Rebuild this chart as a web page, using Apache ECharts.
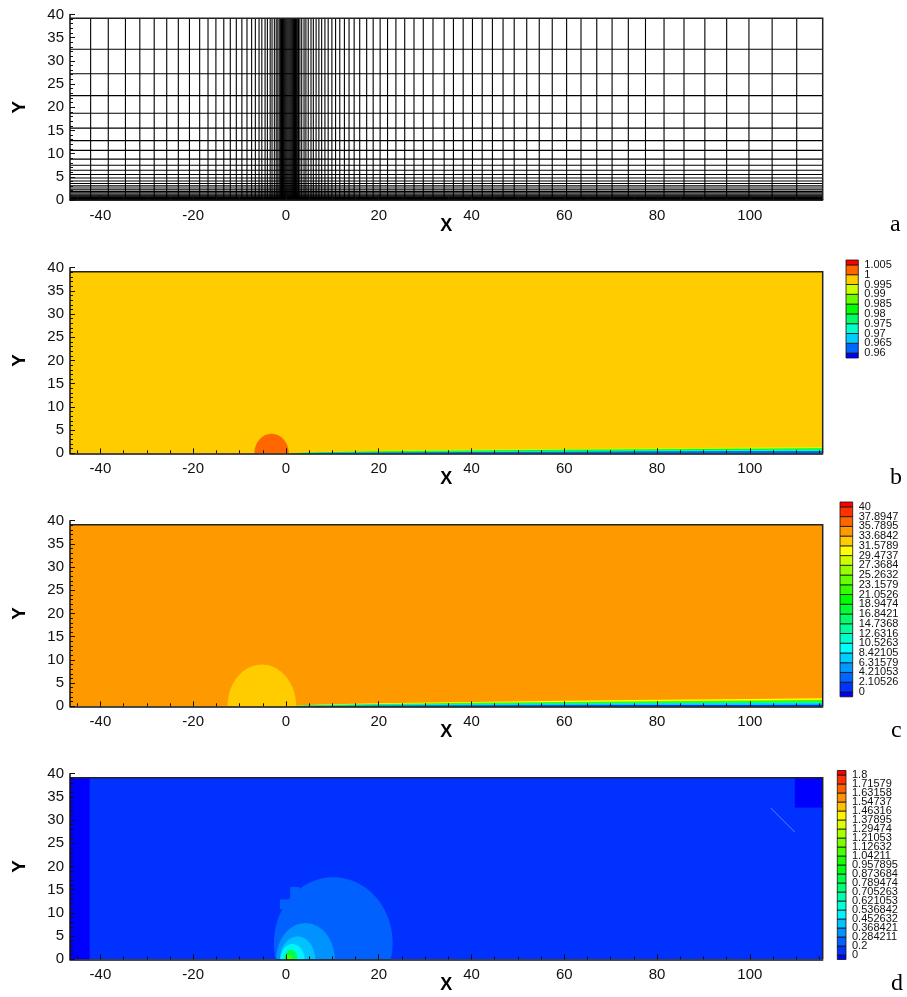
<!DOCTYPE html>
<html>
<head>
<meta charset="utf-8">
<title>Mesh and flow fields</title>
<script src="https://cdn.jsdelivr.net/npm/echarts/dist/echarts.min.js"></script>
<style>
  html, body { margin: 0; padding: 0; background: #fff; }
  #chart { width: 907px; height: 997px; }
</style>
</head>
<body>
<div id="chart"></div>
<script>
// ---- computational box ----
const X_MIN = -46.55, X_MAX = 115.7, Y_MAX = 39.15;
const X_LABELS = [-40, -20, 0, 20, 40, 60, 80, 100];
const X_TICKS = [-45, -40, -35, -30, -25, -20, -15, -10, -5, 0, 5, 10, 15, 20, 25, 30, 35, 40, 45, 50,
  55, 60, 65, 70, 75, 80, 85, 90, 95, 100, 105, 110, 115];

// ---- panel a: mesh line positions ----
const meshX = [-42.1, -38.3, -34.6, -31.5, -28.4, -25.7, -23.2, -20.8, -18.6, -16.8, -15.1, -13.4,
  -12.0, -10.7, -9.5, -8.4, -7.4, -6.6, -5.8, -5.2, -4.5, -4.0, -3.4, -3.0, -2.5, -2.1, -1.75,
  -1.45, -1.2, -0.95, -0.75, -0.55, -0.35, -0.15, 0.05, 0.25, 0.45, 0.65, 0.85, 1.05, 1.25, 1.45,
  1.65, 1.85, 2.05, 2.25, 2.45, 2.7, 3.0, 3.4, 3.9, 4.3, 4.8, 5.4, 5.9, 6.5, 7.1, 7.7, 8.4, 9.1,
  9.9, 10.7, 11.6, 12.6, 13.6, 14.7, 15.9, 17.4, 18.8, 20.3, 21.9, 23.7, 25.6, 27.6, 29.6, 31.7,
  34.1, 36.1, 38.2, 40.2, 42.3, 44.5, 46.8, 49.2, 51.9, 54.6, 57.4, 60.5, 63.6, 67.0, 70.3, 73.8,
  77.5, 81.5, 85.8, 90.3, 95.0, 99.8, 104.8, 110.1];
const meshY = [0.03, 0.07, 0.13, 0.2, 0.29, 0.4, 0.53, 0.68, 0.85, 1.05, 1.28, 1.55, 1.85, 2.2,
  2.6, 3.05, 3.55, 4.1, 4.75, 5.5, 6.4, 7.5, 8.8, 10.7, 12.8, 15.5, 18.7, 22.5, 27.2, 32.5];

// ---- panel b: density ----
const rhoLevels = ['0.96', '0.965', '0.97', '0.975', '0.98', '0.985', '0.99', '0.995', '1', '1.005'];
const rhoFree = 0.997;
const rhoBlocks = [];
const rhoDomes = [[-3.1, 0, 3.7, 4.2, 1.002]];               // cx, cy, rx, ry, value
const wallX = [0, 5, 10, 20, 40, 60, 80, 100, 115.7];
const rhoWall = [                                               // value, band top at wallX
  [0.992, [0, 0.25, 0.4, 0.55, 0.8, 0.95, 1.1, 1.25, 1.35]],
  [0.982, [0, 0.15, 0.3, 0.42, 0.62, 0.75, 0.88, 1.0, 1.08]],
  [0.972, [0, 0.1, 0.2, 0.3, 0.45, 0.55, 0.65, 0.75, 0.8]],
  [0.962, [0, 0.05, 0.12, 0.18, 0.28, 0.35, 0.42, 0.48, 0.52]]
];

// ---- panel c: velocity ----
const velLevels = ['0', '2.10526', '4.21053', '6.31579', '8.42105', '10.5263', '12.6316', '14.7368',
  '16.8421', '18.9474', '21.0526', '23.1579', '25.2632', '27.3684', '29.4737', '31.5789', '33.6842',
  '35.7895', '37.8947', '40'];
const velFree = 34.7;
const velBlocks = [];
const velDomes = [[-5.2, 0, 7.4, 9.0, 32.6]];
const velWall = [
  [30, [0, 0.3, 0.45, 0.65, 0.95, 1.2, 1.4, 1.6, 1.75]],
  [22, [0, 0.22, 0.35, 0.5, 0.75, 0.95, 1.1, 1.25, 1.35]],
  [14, [0, 0.15, 0.25, 0.37, 0.55, 0.7, 0.82, 0.93, 1.0]],
  [7, [0, 0.1, 0.16, 0.24, 0.36, 0.46, 0.54, 0.62, 0.67]],
  [2, [0, 0.05, 0.08, 0.12, 0.18, 0.23, 0.27, 0.3, 0.33]]
];

// ---- panel d: magnitude ----
const magLevels = ['0', '0.2', '0.284211', '0.368421', '0.452632', '0.536842', '0.621053', '0.705263',
  '0.789474', '0.873684', '0.957895', '1.04211', '1.12632', '1.21053', '1.29474', '1.37895', '1.46316',
  '1.54737', '1.63158', '1.71579', '1.8'];
const magFree = 0.1;
const magBlocks = [                                             // x0, x1, y0, y1, value
  [X_MIN, -42.3, 0, Y_MAX, -0.01],
  [109.7, X_MAX, 32.7, Y_MAX, -0.01],
  [0.9, 2.9, 12.9, 15.6, 0.25],
  [-1.3, 0.9, 10.8, 12.9, 0.25]
];
const magWall = [];
const magDomes = [
  [10.2, 3.5, 12.8, 14.2, 0.25],
  [4.2, 0, 6.3, 7.8, 0.33],
  [2.5, 0, 3.8, 4.9, 0.42],
  [1.4, 0, 2.6, 3.3, 0.5],
  [1.1, 0, 1.4, 2.1, 0.8],
  [0.7, 0, 0.7, 1.0, 1.1]
];
const magStreak = [[104.5, 32.6], [109.7, 27.4]];

// ---- styling ----
const SANS = '"Liberation Sans", Arial, sans-serif';
const SERIF = '"Liberation Serif", "DejaVu Serif", serif';
const RAMP = [[0, 0, 255], [0, 255, 255], [0, 255, 0], [255, 255, 0], [255, 0, 0]];
function rainbow(t) {
  t = Math.min(1, Math.max(0, t));
  const s = t * 4, i = Math.min(3, Math.floor(s)), f = s - i;
  const a = RAMP[i], b = RAMP[i + 1];
  return 'rgb(' + a.map((c, j) => Math.round(c + (b[j] - c) * f)).join(',') + ')';
}
function bandColor(levels, v) {
  let k = 0;
  levels.forEach(l => { if (v >= l) k++; });
  return rainbow(k / levels.length);
}
const num = arr => arr.map(parseFloat);

const PANEL_TOP = [14.4, 267.7, 520.7, 773.7];
const PANEL_H = 185.6, PANEL_LEFT = 70, PANEL_W = 752.7;

const grid = PANEL_TOP.map(t => ({
  left: PANEL_LEFT, top: t, width: PANEL_W, height: PANEL_H, outerBoundsMode: 'none'
}));
// colour-bar grids for panels b, c, d
const bars = [
  { levels: rhoLevels, left: 846, width: 12.3, top: 260, height: 98 },
  { levels: velLevels, left: 840, width: 12.7, top: 502, height: 194.8 },
  { levels: magLevels, left: 837.3, width: 8.7, top: 770.5, height: 189 }
];
bars.forEach(b => grid.push({
  left: b.left, top: b.top, width: b.width, height: b.height, outerBoundsMode: 'none'
}));

const xAxis = [], yAxis = [];
const axisLineStyle = { color: '#111', width: 1.5 };
for (let p = 0; p < 4; p++) {
  xAxis.push({
    gridIndex: p, type: 'value', min: X_MIN, max: X_MAX, position: 'bottom', z: 10,
    name: 'X', nameLocation: 'middle', nameGap: 17, nameMoveOverlap: false,
    nameTextStyle: { fontFamily: SANS, fontSize: 18, fontWeight: 'bold', color: '#000' },
    axisLine: { show: true, onZero: false, lineStyle: axisLineStyle },
    axisTick: { show: true, inside: true, length: 5, customValues: X_LABELS, lineStyle: { color: '#111' } },
    axisLabel: { show: true, customValues: X_LABELS, fontFamily: SANS, fontSize: 15, color: '#111', margin: 8 },
    splitLine: { show: false }
  });
  xAxis.push({
    gridIndex: p, type: 'value', min: X_MIN, max: X_MAX, position: 'bottom', z: 10,
    axisLine: { show: false },
    axisTick: { show: true, inside: true, length: 3, customValues: X_TICKS, lineStyle: { color: '#111' } },
    axisLabel: { show: false },
    splitLine: { show: false }
  });
  yAxis.push({
    gridIndex: p, type: 'value', min: 0, max: 40, interval: 5, z: 10,
    name: 'Y', nameLocation: 'middle', nameGap: 41, nameRotate: 90, nameMoveOverlap: false,
    nameTextStyle: { fontFamily: SANS, fontSize: 19, fontWeight: 'bold', color: '#000' },
    axisLine: { show: true, onZero: false, lineStyle: axisLineStyle },
    axisTick: { show: true, inside: true, length: 5, lineStyle: { color: '#111' } },
    minorTick: { show: true, splitNumber: 5, length: 3, lineStyle: { color: '#111' } },
    axisLabel: { fontFamily: SANS, fontSize: 15, color: '#111', margin: 6 },
    splitLine: { show: false }
  });
}
bars.forEach((b, i) => {
  xAxis.push({ gridIndex: 4 + i, type: 'value', min: 0, max: 1, show: false });
  yAxis.push({ gridIndex: 4 + i, type: 'value', min: -0.5, max: b.levels.length - 0.5, show: false });
});

function buildRegions(free, blocks, wall, domes) {
  const out = [{ kind: 'rect', x0: X_MIN, x1: X_MAX, y0: 0, y1: Y_MAX, v: free }];
  blocks.forEach(b => out.push({ kind: 'rect', x0: b[0], x1: b[1], y0: b[2], y1: b[3], v: b[4] }));
  wall.forEach(w => out.push({ kind: 'wall', v: w[0], h: w[1] }));
  domes.forEach(d => out.push({ kind: 'dome', cx: d[0], cy: d[1], rx: d[2], ry: d[3], v: d[4] }));
  return out;
}

function fieldSeries(p, regions, levels) {
  return {
    type: 'custom', xAxisIndex: 2 * p, yAxisIndex: p, z: 1, silent: true,
    data: regions.map((r, i) => [i, 0]),
    renderItem(params, api) {
      const r = regions[params.dataIndex];
      let pts;
      if (r.kind === 'rect') {
        pts = [[r.x0, r.y0], [r.x1, r.y0], [r.x1, r.y1], [r.x0, r.y1]];
      } else if (r.kind === 'wall') {
        pts = wallX.map((x, j) => [x, r.h[j]]);
        pts.push([X_MAX, 0], [wallX[0], 0]);
      } else {
        pts = [];
        for (let a = 0; a <= 96; a++) {
          const th = Math.PI * 2 * a / 96;
          pts.push([r.cx + r.rx * Math.cos(th), Math.max(0, r.cy + r.ry * Math.sin(th))]);
        }
      }
      return {
        type: 'polygon',
        shape: { points: pts.map(q => api.coord(q)) },
        style: { fill: bandColor(levels, r.v), stroke: null }
      };
    }
  };
}

function frameSeries(p) {
  return {
    type: 'custom', xAxisIndex: 2 * p, yAxisIndex: p, z: 5, silent: true,
    data: [[X_MAX, Y_MAX]],
    renderItem(params, api) {
      const pts = [[X_MIN, Y_MAX], [X_MAX, Y_MAX], [X_MAX, 0]].map(q => api.coord(q));
      return { type: 'polyline', shape: { points: pts }, style: { stroke: '#222', lineWidth: 1.5, fill: null } };
    }
  };
}

function barSeries(i) {
  const b = bars[i], n = b.levels.length;
  const bands = [];
  for (let k = 0; k <= n; k++) bands.push([k, 0]);
  return [{
    type: 'custom', xAxisIndex: 8 + i, yAxisIndex: 4 + i, z: 3, silent: true,
    data: bands,
    renderItem(params, api) {
      const k = params.dataIndex;
      const y0 = k === 0 ? -0.5 : k - 1;
      const y1 = k === n ? n - 0.5 : k;
      const a = api.coord([0, y1]), c = api.coord([1, y0]);
      return {
        type: 'rect',
        shape: { x: a[0], y: a[1], width: c[0] - a[0], height: c[1] - a[1] },
        style: { fill: rainbow(k / n), stroke: '#111', lineWidth: 0.8 }
      };
    }
  }, {
    type: 'custom', xAxisIndex: 8 + i, yAxisIndex: 4 + i, z: 3, silent: true,
    data: b.levels.map((l, j) => [1, j]),
    renderItem(params, api) {
      const pt = api.coord([1, params.dataIndex]);
      return {
        type: 'text',
        style: {
          text: b.levels[params.dataIndex], x: pt[0] + 6, y: pt[1],
          textAlign: 'left', textVerticalAlign: 'middle',
          font: '11px ' + SANS, fill: '#111'
        }
      };
    }
  }];
}

const series = [];
// panel a mesh
series.push({
  type: 'custom', xAxisIndex: 0, yAxisIndex: 0, z: 2, silent: true,
  data: meshX.map(x => [x, 0]),
  renderItem(params, api) {
    const x = api.value(0);
    const a = api.coord([x, 0]), b = api.coord([x, Y_MAX]);
    return { type: 'line', shape: { x1: a[0], y1: a[1], x2: b[0], y2: b[1] }, style: { stroke: '#000', lineWidth: 1.1 } };
  }
});
series.push({
  type: 'custom', xAxisIndex: 0, yAxisIndex: 0, z: 2, silent: true,
  data: meshY.map(y => [X_MIN, y]),
  renderItem(params, api) {
    const y = api.value(1);
    const a = api.coord([X_MIN, y]), b = api.coord([X_MAX, y]);
    return { type: 'line', shape: { x1: a[0], y1: a[1], x2: b[0], y2: b[1] }, style: { stroke: '#000', lineWidth: 1.1 } };
  }
});
// panels b, c, d fields
series.push(fieldSeries(1, buildRegions(rhoFree, rhoBlocks, rhoWall, rhoDomes), num(rhoLevels)));
series.push(fieldSeries(2, buildRegions(velFree, velBlocks, velWall, velDomes), num(velLevels)));
series.push(fieldSeries(3, buildRegions(magFree, magBlocks, magWall, magDomes), num(magLevels)));
series.push({
  type: 'custom', xAxisIndex: 6, yAxisIndex: 3, z: 2, silent: true,
  data: [magStreak[0]],
  renderItem(params, api) {
    const a = api.coord(magStreak[0]), b = api.coord(magStreak[1]);
    return { type: 'line', shape: { x1: a[0], y1: a[1], x2: b[0], y2: b[1] }, style: { stroke: '#4f86ff', lineWidth: 1 } };
  }
});
for (let p = 0; p < 4; p++) series.push(frameSeries(p));
for (let i = 0; i < 3; i++) series.push(...barSeries(i));

const letterStyle = { fontFamily: SERIF, fontSize: 24, fontWeight: 'normal', color: '#000' };
const title = [
  { text: 'a', left: 890, top: 213, padding: 0, textStyle: letterStyle },
  { text: 'b', left: 890, top: 466, padding: 0, textStyle: letterStyle },
  { text: 'c', left: 891, top: 719, padding: 0, textStyle: letterStyle },
  { text: 'd', left: 891, top: 972, padding: 0, textStyle: letterStyle }
];

const chart = echarts.init(document.getElementById('chart'), null, { renderer: 'canvas' });
chart.setOption({ animation: false, backgroundColor: '#fff', title, grid, xAxis, yAxis, series });
</script>
</body>
</html>
